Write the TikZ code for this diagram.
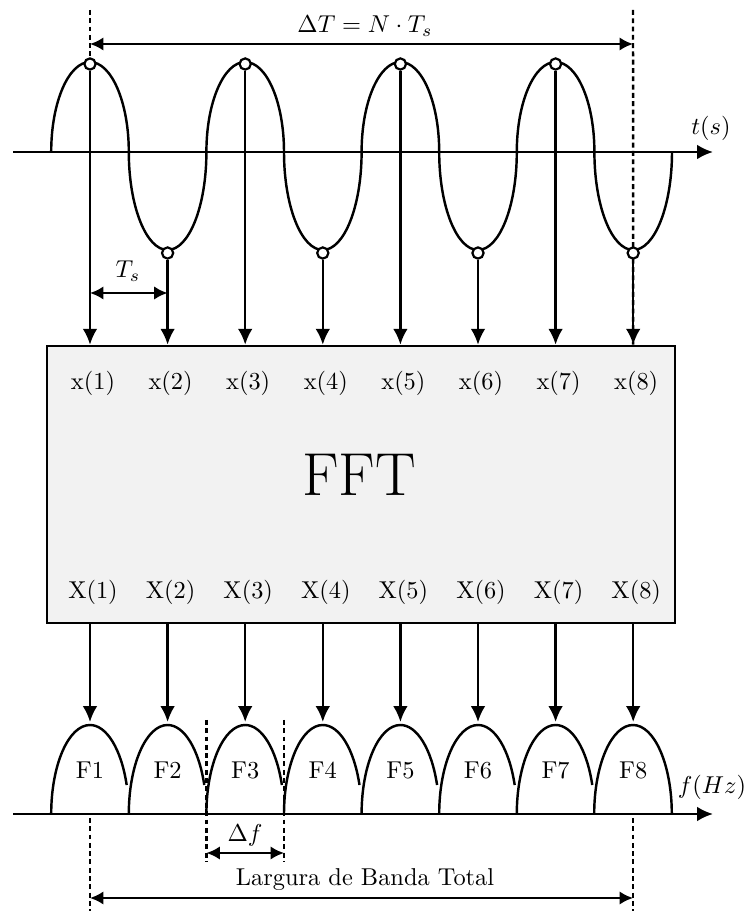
\documentclass[tikz,border=0pt]{standalone}
\usetikzlibrary{arrows.meta}
\begin{document}
\begin{tikzpicture}[x=0.41pt,y=0.41pt,
  line/.style={line width=1pt},
  arr/.style={line width=1pt,-{Latex[length=6.5pt,width=6pt]}},
  dim/.style={line width=1pt,{Latex[length=5.5pt,width=5.5pt]}-{Latex[length=5.5pt,width=5.5pt]}},
  dashln/.style={line width=1pt,dash pattern=on 2pt off 1.4pt},
  samp/.style={circle,draw,fill=white,line width=0.9pt,inner sep=0pt,minimum size=4.6pt},
  lbl/.style={inner sep=0pt},
  ftbox/.style={draw,fill=black!5,line width=1pt,minimum width=257.5pt,minimum height=113.6pt,inner sep=0pt},
]
\useasboundingbox (0,0) rectangle (745,911);

% FFT block
\node[ftbox] (fft) at (361,426.5) {};
\node[lbl] (fftlab) at (359,436.5) {\Huge FFT};

% sample coordinates and labels
\foreach \i in {1,...,8}{
  \pgfmathsetmacro\xx{90+77.6*(\i-1)}
  \pgfmathtruncatemacro\odd{mod(\i,2)}
  \ifnum\odd=1
    \coordinate (p\i) at (\xx,847);
  \else
    \coordinate (p\i) at (\xx,658);
  \fi
  \node[lbl] (xin\i) at (\xx+3,528) {x(\i)};
  \node[lbl] (Xout\i) at (\xx+3,319) {X(\i)};
  \coordinate (b\i) at (\xx,189);
  \node[lbl] (F\i) at (\xx,141) {F\i};
}

% dashed guide lines
\coordinate (tl) at (90,901);
\coordinate (tr) at (633,901);
\coordinate (bl) at (90,0);
\coordinate (br) at (633,0);
\coordinate (bla) at (90,93);
\coordinate (bra) at (633,93);
\draw[dashln] (tl) -- (p1);
\draw[dashln] (tr) -- (p8 |- fft.north);
\draw[dashln] (bla) -- (bl);
\draw[dashln] (bra) -- (br);

% time axis
\coordinate (ta0) at (13,759);
\coordinate (ta1) at (713,759);
\draw[arr] (ta0) -- (ta1);
\node[lbl] (tlab) at (711,783) {$t(s)$};

% sinusoid
\draw[line] (51.2,759)
  arc[start angle=180,end angle=0,x radius=38.8,y radius=90]
  arc[start angle=180,end angle=360,x radius=38.8,y radius=98]
  arc[start angle=180,end angle=0,x radius=38.8,y radius=90]
  arc[start angle=180,end angle=360,x radius=38.8,y radius=98]
  arc[start angle=180,end angle=0,x radius=38.8,y radius=90]
  arc[start angle=180,end angle=360,x radius=38.8,y radius=98]
  arc[start angle=180,end angle=0,x radius=38.8,y radius=90]
  arc[start angle=180,end angle=360,x radius=38.8,y radius=98];

% sample circles and arrows into FFT
\foreach \i in {1,...,8}{
  \node[samp] (c\i) at (p\i) {};
  \draw[arr] (c\i) -- (c\i |- fft.north);
  \draw[arr] (c\i |- fft.south) -- (b\i);
}

% Delta T dimension
\coordinate (dTl) at (90,867);
\coordinate (dTr) at (633,867);
\draw[dim] (dTl) -- (dTr);
\node[lbl] (dTlab) at (365,885) {$\Delta T = N\cdot T_s$};

% Ts dimension
\coordinate (tsl) at (90,618);
\coordinate (tsr) at (167.6,618);
\draw[dim] (tsl) -- (tsr);
\node[lbl] (tslab) at (128,640) {$T_s$};

% frequency axis
\coordinate (fa0) at (13,97);
\coordinate (fa1) at (713,97);
\draw[arr] (fa0) -- (fa1);
\node[lbl] (flab) at (712,124) {$f(Hz)$};

% spectral bumps
\foreach \i in {1,...,7}{
  \pgfmathsetmacro\xs{90+77.6*(\i-1)-38.8}
  \draw[line] (\xs,97) arc[start angle=180,end angle=19,x radius=38.8,y radius=89];
}
\draw[line] (594.2,97) arc[start angle=180,end angle=0,x radius=38.8,y radius=89];

% Delta f
\coordinate (dfa) at (206.4,191);
\coordinate (dfb) at (206.4,49);
\coordinate (dfc) at (284,191);
\coordinate (dfd) at (284,49);
\draw[dashln] (dfa) -- (dfb);
\draw[dashln] (dfc) -- (dfd);
\coordinate (dfl) at (206.4,58);
\coordinate (dfr) at (284,58);
\draw[dim] (dfl) -- (dfr);
\node[lbl] (dflab) at (245,76) {$\Delta f$};

% total bandwidth
\coordinate (bwl) at (90,13);
\coordinate (bwr) at (633,13);
\draw[dim] (bwl) -- (bwr);
\node[lbl] (bwlab) at (365,31) {Largura de Banda Total};
\end{tikzpicture}
\end{document}
